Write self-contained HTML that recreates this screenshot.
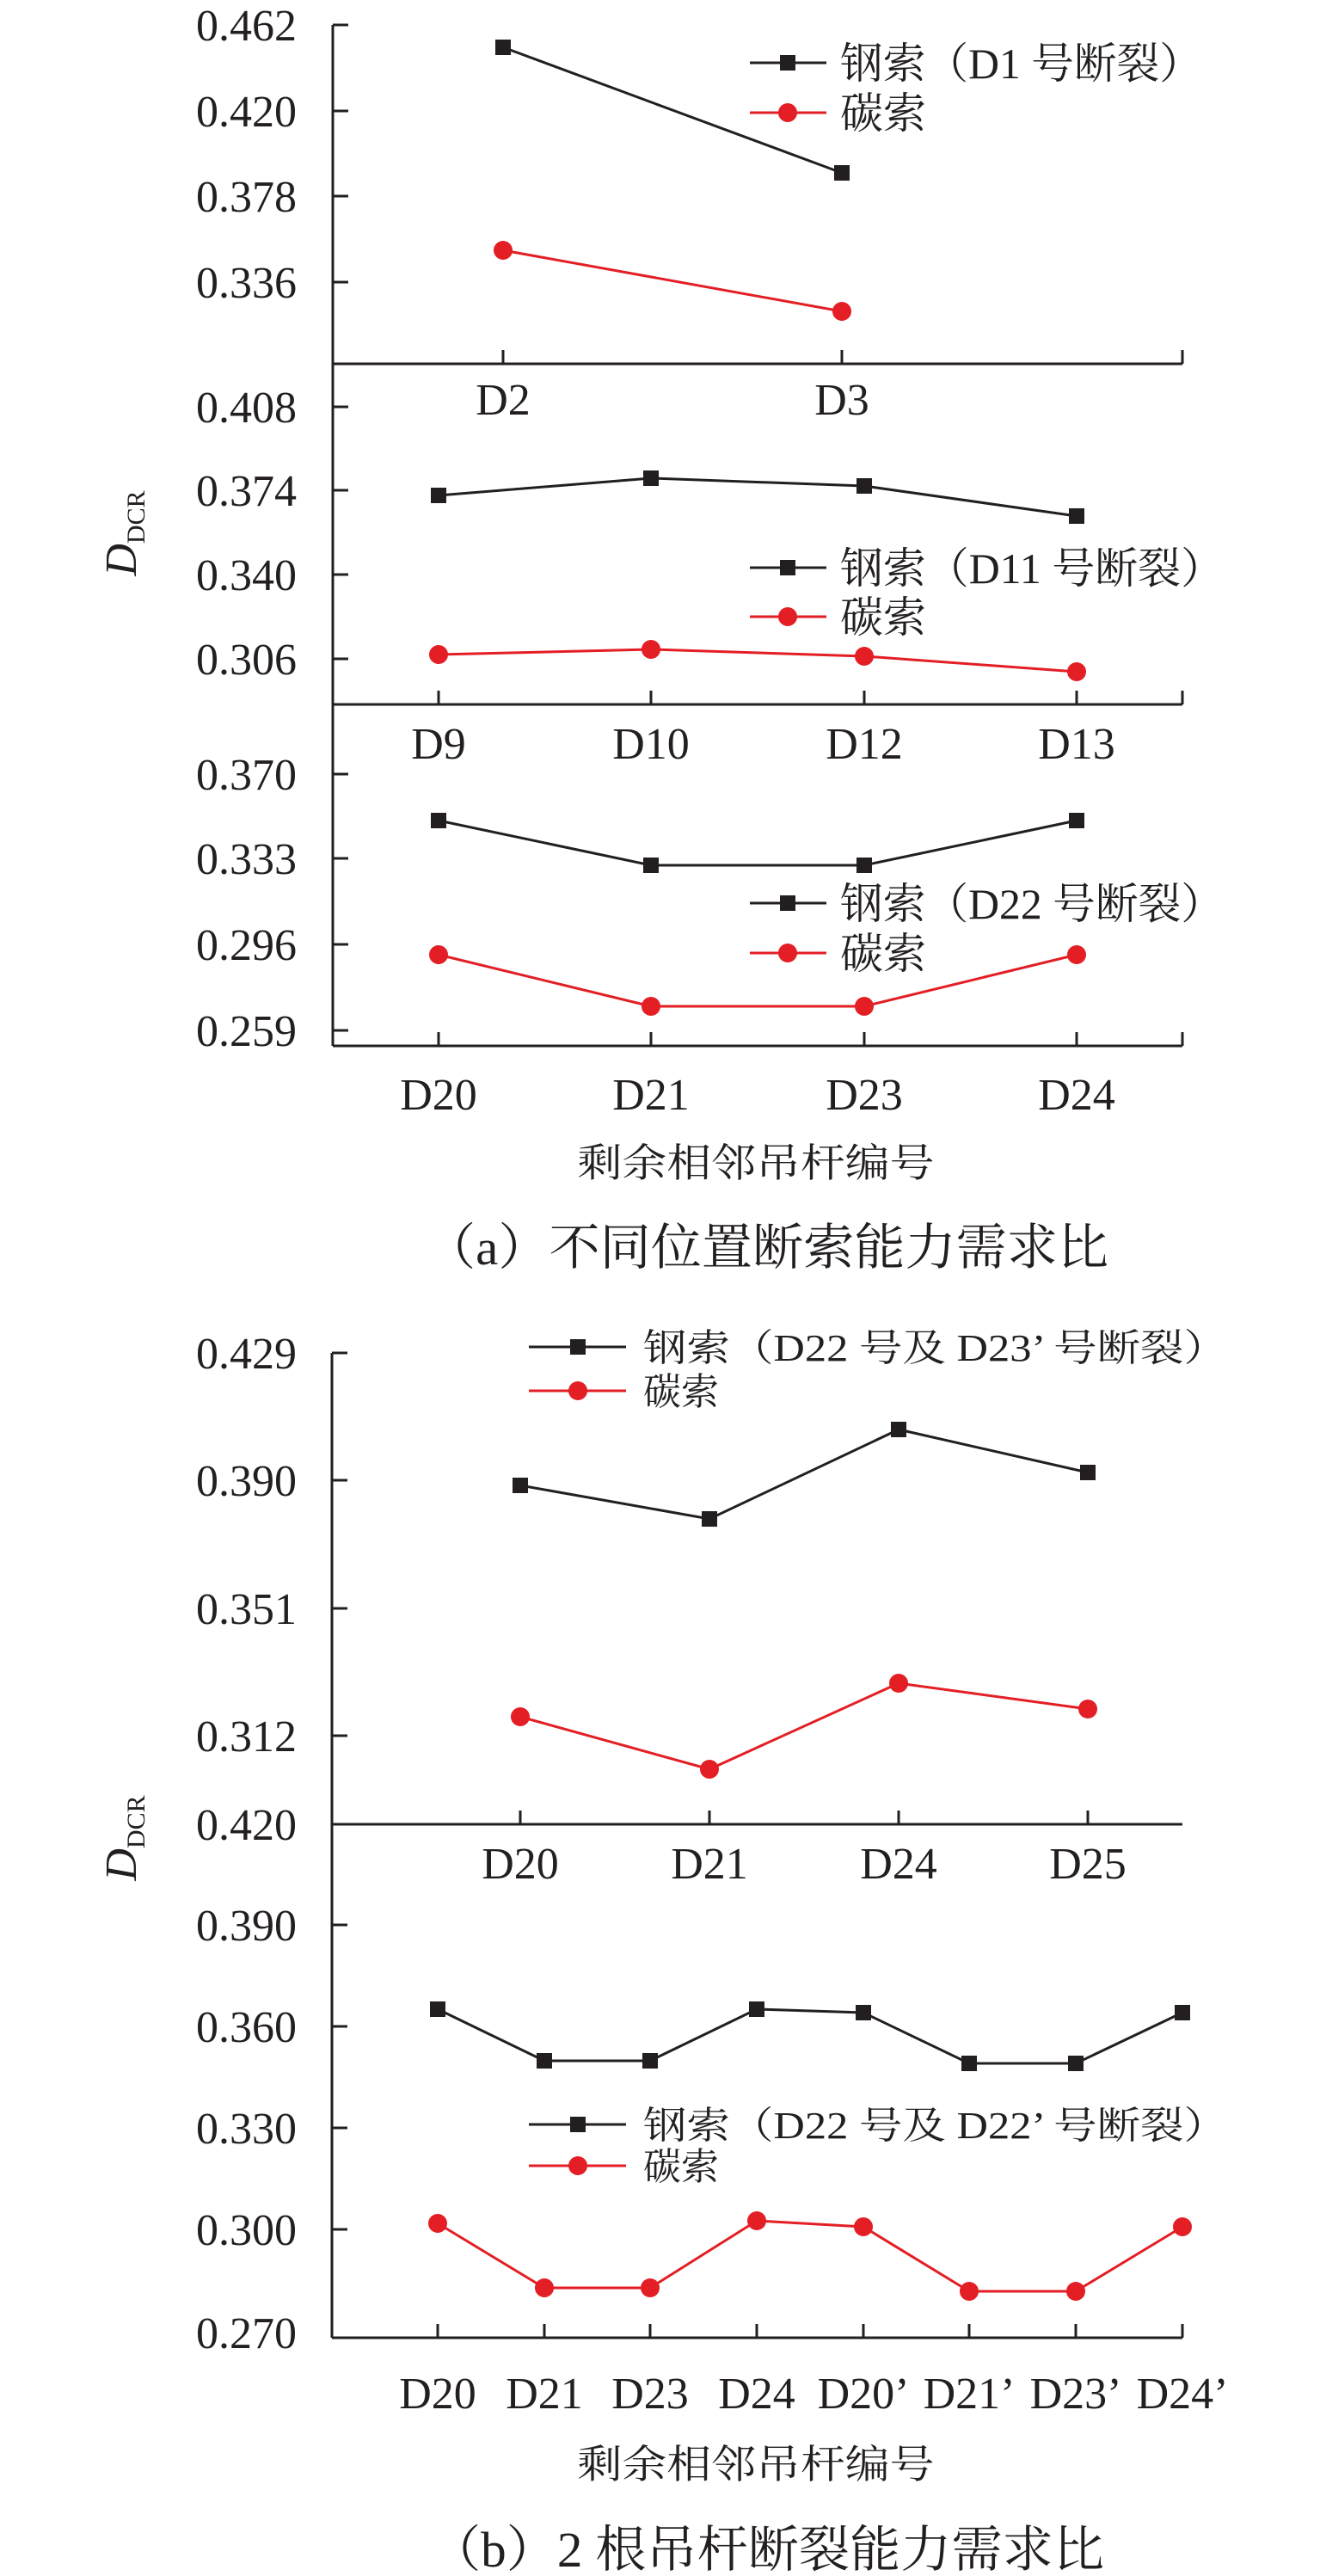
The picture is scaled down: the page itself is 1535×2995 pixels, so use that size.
<!DOCTYPE html>
<html><head><meta charset="utf-8"><style>
html,body{margin:0;padding:0;background:#fff}
svg{display:block}
text{font-family:"Liberation Serif","Noto Serif CJK SC",serif;fill:#231f20}
.t{font-size:52px;text-anchor:end}
.x{font-size:52px;text-anchor:middle}
</style></head><body>
<svg width="1535" height="2995" viewBox="0 0 1535 2995" xmlns="http://www.w3.org/2000/svg">
<g stroke="#231f20" stroke-width="3" fill="none">
<line x1="387" y1="29" x2="387" y2="1216"/>
<line x1="387" y1="423" x2="1375" y2="423"/>
<line x1="387" y1="819" x2="1375" y2="819"/>
<line x1="387" y1="1216" x2="1375" y2="1216"/>
<path d="M387 29h18M387 129h18M387 228h18M387 328h18M387 473h18M387 570h18M387 668h18M387 766h18M387 900h18M387 998h18M387 1098h18M387 1198h18"/>
<path d="M585 423v-16M979 423v-16M1375 423v-16M510 819v-16M757 819v-16M1005 819v-16M1252 819v-16M1375 819v-16M510 1216v-16M757 1216v-16M1005 1216v-16M1252 1216v-16M1375 1216v-16"/>
<line x1="386" y1="1573" x2="386" y2="2718"/>
<line x1="386" y1="2121" x2="1375" y2="2121"/>
<line x1="386" y1="2718" x2="1375" y2="2718"/>
<path d="M386 1573h18M386 1721h18M386 1870h18M386 2018h18M386 2238h18M386 2356h18M386 2474h18M386 2592h18"/>
<path d="M605 2121v-16M825 2121v-16M1045 2121v-16M1265 2121v-16"/>
<path d="M509 2718v-16M633 2718v-16M756 2718v-16M880 2718v-16M1004 2718v-16M1127 2718v-16M1251 2718v-16M1375 2718v-16"/>
</g>
<g stroke-width="3" fill="none">
<polyline stroke="#231f20" points="585,55 979,201"/>
<polyline stroke="#e31e24" points="585,291 979,362"/>
<polyline stroke="#231f20" points="510,576 757,556 1005,565 1252,600"/>
<polyline stroke="#e31e24" points="510,761 757,755 1005,763 1252,781"/>
<polyline stroke="#231f20" points="510,954 757,1006 1005,1006 1252,954"/>
<polyline stroke="#e31e24" points="510,1110 757,1170 1005,1170 1252,1110"/>
<polyline stroke="#231f20" points="605,1727 825,1766 1045,1662 1265,1712"/>
<polyline stroke="#e31e24" points="605,1996 825,2057 1045,1957 1265,1987"/>
<polyline stroke="#231f20" points="509,2336 633,2396 756,2396 880,2336 1004,2340 1127,2399 1251,2399 1375,2340"/>
<polyline stroke="#e31e24" points="509,2585 633,2660 756,2660 880,2582 1004,2589 1127,2664 1251,2664 1375,2589"/>
<line stroke="#231f20" x1="872" y1="73" x2="961" y2="73"/>
<line stroke="#e31e24" x1="872" y1="131" x2="961" y2="131"/>
<line stroke="#231f20" x1="872" y1="660" x2="961" y2="660"/>
<line stroke="#e31e24" x1="872" y1="717" x2="961" y2="717"/>
<line stroke="#231f20" x1="872" y1="1050" x2="961" y2="1050"/>
<line stroke="#e31e24" x1="872" y1="1108" x2="961" y2="1108"/>
<line stroke="#231f20" x1="615" y1="1566" x2="728" y2="1566"/>
<line stroke="#e31e24" x1="615" y1="1617" x2="728" y2="1617"/>
<line stroke="#231f20" x1="615" y1="2470" x2="728" y2="2470"/>
<line stroke="#e31e24" x1="615" y1="2518" x2="728" y2="2518"/>
</g>
<g fill="#231f20">
<rect x="576" y="46" width="18" height="18"/><rect x="970" y="192" width="18" height="18"/>
<rect x="501" y="567" width="18" height="18"/><rect x="748" y="547" width="18" height="18"/><rect x="996" y="556" width="18" height="18"/><rect x="1243" y="591" width="18" height="18"/>
<rect x="501" y="945" width="18" height="18"/><rect x="748" y="997" width="18" height="18"/><rect x="996" y="997" width="18" height="18"/><rect x="1243" y="945" width="18" height="18"/>
<rect x="596" y="1718" width="18" height="18"/><rect x="816" y="1757" width="18" height="18"/><rect x="1036" y="1653" width="18" height="18"/><rect x="1256" y="1703" width="18" height="18"/>
<rect x="500" y="2327" width="18" height="18"/><rect x="624" y="2387" width="18" height="18"/><rect x="747" y="2387" width="18" height="18"/><rect x="871" y="2327" width="18" height="18"/><rect x="995" y="2331" width="18" height="18"/><rect x="1118" y="2390" width="18" height="18"/><rect x="1242" y="2390" width="18" height="18"/><rect x="1366" y="2331" width="18" height="18"/>
<rect x="907" y="64" width="18" height="18"/><rect x="907" y="651" width="18" height="18"/><rect x="907" y="1041" width="18" height="18"/><rect x="663" y="1557" width="18" height="18"/><rect x="663" y="2461" width="18" height="18"/>
</g>
<g fill="#e31e24">
<circle cx="585" cy="291" r="11"/><circle cx="979" cy="362" r="11"/>
<circle cx="510" cy="761" r="11"/><circle cx="757" cy="755" r="11"/><circle cx="1005" cy="763" r="11"/><circle cx="1252" cy="781" r="11"/>
<circle cx="510" cy="1110" r="11"/><circle cx="757" cy="1170" r="11"/><circle cx="1005" cy="1170" r="11"/><circle cx="1252" cy="1110" r="11"/>
<circle cx="605" cy="1996" r="11"/><circle cx="825" cy="2057" r="11"/><circle cx="1045" cy="1957" r="11"/><circle cx="1265" cy="1987" r="11"/>
<circle cx="509" cy="2585" r="11"/><circle cx="633" cy="2660" r="11"/><circle cx="756" cy="2660" r="11"/><circle cx="880" cy="2582" r="11"/><circle cx="1004" cy="2589" r="11"/><circle cx="1127" cy="2664" r="11"/><circle cx="1251" cy="2664" r="11"/><circle cx="1375" cy="2589" r="11"/>
<circle cx="916" cy="131" r="11"/><circle cx="916" cy="717" r="11"/><circle cx="916" cy="1108" r="11"/><circle cx="672" cy="1617" r="11"/><circle cx="672" cy="2518" r="11"/>
</g>
<text class="t" x="345" y="47">0.462</text><text class="t" x="345" y="147">0.420</text><text class="t" x="345" y="246">0.378</text><text class="t" x="345" y="346">0.336</text>
<text class="t" x="345" y="491">0.408</text><text class="t" x="345" y="588">0.374</text><text class="t" x="345" y="686">0.340</text><text class="t" x="345" y="784">0.306</text>
<text class="t" x="345" y="918">0.370</text><text class="t" x="345" y="1016">0.333</text><text class="t" x="345" y="1116">0.296</text><text class="t" x="345" y="1216">0.259</text>
<text class="t" x="345" y="1591">0.429</text><text class="t" x="345" y="1739">0.390</text><text class="t" x="345" y="1888">0.351</text><text class="t" x="345" y="2036">0.312</text><text class="t" x="345" y="2139">0.420</text>
<text class="t" x="345" y="2256">0.390</text><text class="t" x="345" y="2374">0.360</text><text class="t" x="345" y="2492">0.330</text><text class="t" x="345" y="2610">0.300</text><text class="t" x="345" y="2730">0.270</text>
<text class="x" x="585" y="482">D2</text><text class="x" x="979" y="482">D3</text>
<text class="x" x="510" y="882">D9</text><text class="x" x="757" y="882">D10</text><text class="x" x="1005" y="882">D12</text><text class="x" x="1252" y="882">D13</text>
<text class="x" x="510" y="1290">D20</text><text class="x" x="757" y="1290">D21</text><text class="x" x="1005" y="1290">D23</text><text class="x" x="1252" y="1290">D24</text>
<text class="x" x="605" y="2184">D20</text><text class="x" x="825" y="2184">D21</text><text class="x" x="1045" y="2184">D24</text><text class="x" x="1265" y="2184">D25</text>
<text class="x" x="509" y="2800">D20</text><text class="x" x="633" y="2800">D21</text><text class="x" x="756" y="2800">D23</text><text class="x" x="880" y="2800">D24</text><text class="x" x="1004" y="2800">D20’</text><text class="x" x="1127" y="2800">D21’</text><text class="x" x="1251" y="2800">D23’</text><text class="x" x="1375" y="2800">D24’</text>
<g font-size="50">
<text x="977" y="91" textLength="421" lengthAdjust="spacingAndGlyphs">钢索（D1 号断裂）</text>
<text x="977" y="149">碳索</text>
<text x="977" y="678" textLength="446" lengthAdjust="spacingAndGlyphs">钢索（D11 号断裂）</text>
<text x="977" y="735">碳索</text>
<text x="977" y="1068" textLength="446" lengthAdjust="spacingAndGlyphs">钢索（D22 号断裂）</text>
<text x="977" y="1126">碳索</text>
</g>
<g font-size="44">
<text x="748" y="1582" textLength="679" lengthAdjust="spacingAndGlyphs">钢索（D22 号及 D23’ 号断裂）</text>
<text x="748" y="1633">碳索</text>
<text x="748" y="2486" textLength="679" lengthAdjust="spacingAndGlyphs">钢索（D22 号及 D22’ 号断裂）</text>
<text x="748" y="2534">碳索</text>
</g>
<text x="0" y="0" font-size="52" font-style="italic" transform="translate(158,620) rotate(-90)" text-anchor="middle">D<tspan font-size="30" font-style="normal" dy="10">DCR</tspan></text>
<text x="0" y="0" font-size="52" font-style="italic" transform="translate(158,2137) rotate(-90)" text-anchor="middle">D<tspan font-size="30" font-style="normal" dy="10">DCR</tspan></text>
<text x="879" y="1368" font-size="46" text-anchor="middle" textLength="415" lengthAdjust="spacingAndGlyphs">剩余相邻吊杆编号</text>
<text x="879" y="2881" font-size="46" text-anchor="middle" textLength="415" lengthAdjust="spacingAndGlyphs">剩余相邻吊杆编号</text>
<text x="494" y="1470" font-size="58" textLength="795" lengthAdjust="spacingAndGlyphs">（a）不同位置断索能力需求比</text>
<text x="500" y="2984" font-size="58" textLength="784" lengthAdjust="spacingAndGlyphs">（b）2 根吊杆断裂能力需求比</text>
</svg>
</body></html>
